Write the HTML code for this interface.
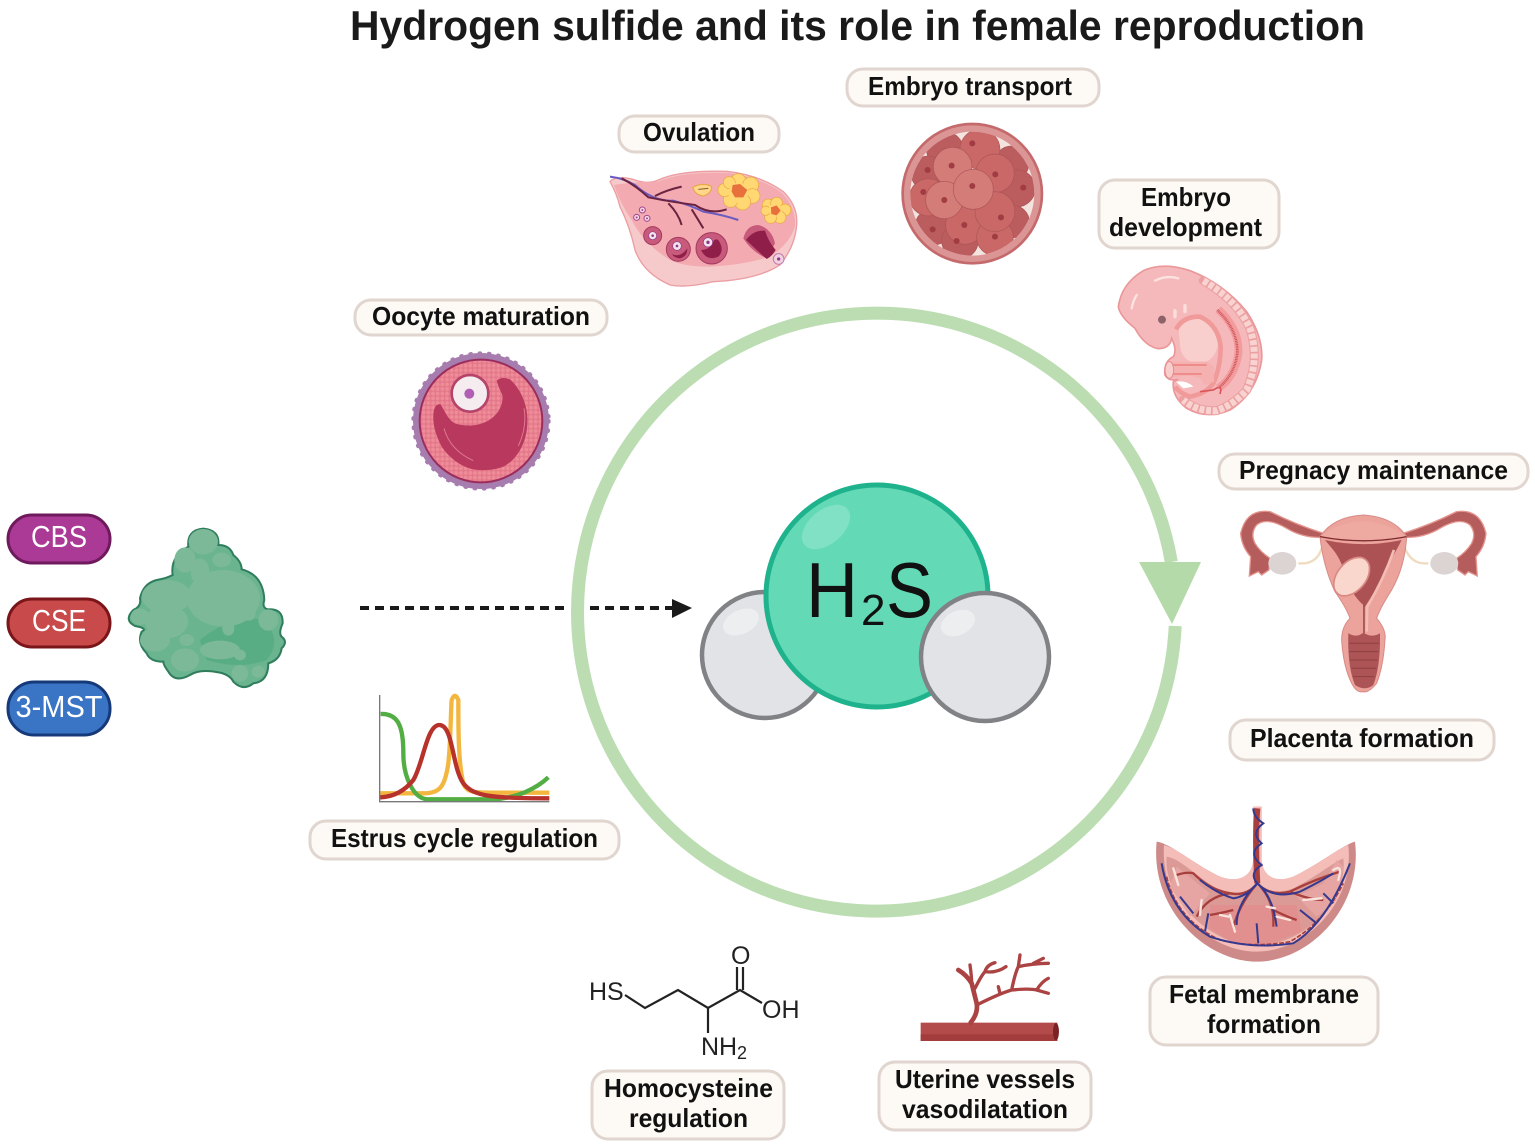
<!DOCTYPE html>
<html><head><meta charset="utf-8"><title>Hydrogen sulfide and its role in female reproduction</title>
<style>html,body{margin:0;padding:0;background:#fff}svg{display:block}
.l{font:bold 26px "Liberation Sans",sans-serif;fill:#111}
.p{font:31px "Liberation Sans",sans-serif;fill:#fff}
.b{fill:#fdf9f5;stroke:#e0d5cf;stroke-width:3}
.c{font:25px "Liberation Sans",sans-serif;fill:#222}
</style></head><body>
<svg xmlns="http://www.w3.org/2000/svg" width="1535" height="1147" viewBox="0 0 1535 1147">
<defs>
<pattern id="gran" width="14" height="14" patternUnits="userSpaceOnUse"><rect width="14" height="14" fill="#e4788a"/><circle cx="7" cy="7" r="5.5" fill="#ee8c98"/></pattern>
<clipPath id="mc"><circle cx="1117" cy="251" r="186"/></clipPath>
</defs>
<text x="350" y="40" font-family="Liberation Sans" font-weight="bold" font-size="42" fill="#1a1a1a" textLength="1015" lengthAdjust="spacingAndGlyphs">Hydrogen sulfide and its role in female reproduction</text>

<!-- ring -->
<path d="M1175.2,626 A299,299 0 1 1 1171.3,562" fill="none" stroke="#bbddb1" stroke-width="13"/>
<path d="M1139,562H1201L1172,624Z" fill="#b5daa9"/>

<!-- dashed arrow -->
<line x1="360" y1="608" x2="566" y2="608" stroke="#1a1a1a" stroke-width="4" stroke-dasharray="9 6"/>
<line x1="590" y1="608" x2="672" y2="608" stroke="#1a1a1a" stroke-width="4" stroke-dasharray="9 6"/>
<path d="M672,599L692,608L672,618Z" fill="#1a1a1a"/>

<!-- molecule -->
<circle cx="765" cy="655" r="63" fill="#e1e3e6" stroke="#808285" stroke-width="4.5"/>
<ellipse cx="741" cy="622" rx="19" ry="12" transform="rotate(-25 741 622)" fill="#eceef0"/>
<circle cx="877" cy="596" r="111" fill="#63dab5" stroke="#1fb38d" stroke-width="5"/>
<ellipse cx="826" cy="527" rx="28" ry="17" transform="rotate(-40 826 527)" fill="#80e1c4"/>
<circle cx="985" cy="657" r="64" fill="#e1e3e6" stroke="#808285" stroke-width="4.5"/>
<ellipse cx="958" cy="623" rx="18" ry="12" transform="rotate(-25 958 623)" fill="#eceef0"/>
<text x="806" y="617" font-family="Liberation Sans" font-size="78" fill="#111" textLength="52" lengthAdjust="spacingAndGlyphs">H</text>
<text x="861" y="625" font-family="Liberation Sans" font-size="44" fill="#111">2</text>
<text x="886" y="617" font-family="Liberation Sans" font-size="78" fill="#111" textLength="47" lengthAdjust="spacingAndGlyphs">S</text>

<!-- pills -->
<rect x="8" y="515" width="102" height="48" rx="24" fill="#ab3a96" stroke="#6e1a5d" stroke-width="3"/>
<text x="59" y="547" text-anchor="middle" class="p" textLength="56" lengthAdjust="spacingAndGlyphs">CBS</text>
<rect x="8" y="599" width="102" height="48" rx="24" fill="#c94a4a" stroke="#7a1519" stroke-width="3"/>
<text x="59" y="631" text-anchor="middle" class="p" textLength="54" lengthAdjust="spacingAndGlyphs">CSE</text>
<rect x="8" y="682" width="102" height="53" rx="26" fill="#3a74c4" stroke="#16397a" stroke-width="3"/>
<text x="59" y="717" text-anchor="middle" class="p" textLength="87" lengthAdjust="spacingAndGlyphs">3-MST</text>

<!-- protein -->
<g transform="translate(0,500) scale(.3333)">
<path d="M565,140 Q560,90 610,86 Q660,90 655,135 Q690,135 700,165 Q725,185 725,208 Q790,225 793,300 Q785,325 805,328 Q850,325 848,370 Q835,400 845,410 Q865,425 845,445 Q840,480 805,490 Q805,545 760,550 Q730,575 700,545 Q690,525 660,518 Q600,505 570,525 Q525,550 505,515 Q490,495 490,485 Q450,485 440,460 Q410,430 425,395 Q445,385 405,378 Q370,360 400,330 Q425,320 420,295 Q430,250 470,240 Q500,235 518,225 Q510,170 565,140Z" fill="#6ab48f" stroke="#2f7d5c" stroke-width="6"/>
<path d="M600,420 Q700,340 790,360 Q850,420 800,480 Q720,510 620,480Z" fill="#58ad85"/>
<g fill="#7cb998">
<ellipse cx="610" cy="125" rx="44" ry="38"/><ellipse cx="555" cy="180" rx="32" ry="38"/><ellipse cx="600" cy="215" rx="28" ry="40"/><ellipse cx="665" cy="180" rx="28" ry="22"/>
<ellipse cx="670" cy="295" rx="110" ry="85"/><ellipse cx="500" cy="290" rx="75" ry="50"/><ellipse cx="500" cy="365" rx="65" ry="50"/><ellipse cx="465" cy="420" rx="45" ry="35"/>
<ellipse cx="555" cy="480" rx="42" ry="35"/><ellipse cx="660" cy="450" rx="60" ry="28"/><ellipse cx="720" cy="520" rx="25" ry="25"/><ellipse cx="805" cy="360" rx="30" ry="32"/><ellipse cx="745" cy="342" rx="22" ry="20"/><ellipse cx="685" cy="385" rx="18" ry="22"/><ellipse cx="560" cy="420" rx="22" ry="18"/><ellipse cx="775" cy="515" rx="20" ry="18"/><ellipse cx="420" cy="350" rx="28" ry="25"/><ellipse cx="720" cy="465" rx="18" ry="16"/>
</g>
</g>

<!-- oocyte -->
<g transform="translate(370,340) scale(.3333)">
<circle cx="333" cy="243" r="198" fill="#a67dae" stroke="#a67dae" stroke-width="12"/>
<circle cx="333" cy="243" r="203" fill="none" stroke="#a67dae" stroke-width="12" stroke-dasharray="2 26" stroke-linecap="round"/>
<circle cx="333" cy="243" r="184" fill="url(#gran)" stroke="#9b2d5d" stroke-width="6"/>
<path d="M380,122 Q395,108 420,118 C455,150 475,200 472,250 C470,310 440,360 400,380 C370,392 340,392 310,388 C270,380 235,350 215,320 C200,290 188,260 190,225 Q192,190 212,193 C225,215 235,240 255,250 C290,262 335,258 365,235 C390,215 400,190 397,165 Q385,140 380,122Z" fill="#b8385e"/>
<path d="M222,265 Q240,330 310,362 M462,205 Q472,260 445,318" fill="none" stroke="#dd7a90" stroke-width="3"/>
<circle cx="300" cy="160" r="55" fill="#f4ecef" stroke="#b5436a" stroke-width="8"/>
<circle cx="298" cy="161" r="15" fill="#b05fb5"/>
</g>

<!-- ovary -->
<g transform="translate(600,110) scale(.3333)">
<path d="M30,215 Q45,195 100,208 Q140,225 175,210 Q240,180 380,184 Q480,195 550,245 Q595,290 590,345 Q585,410 540,465 Q470,510 340,515 Q260,535 210,525 Q130,490 105,420 Q90,350 60,290 Q50,250 30,215Z" fill="#f6c9ca" stroke="#eb9da2" stroke-width="4"/>
<path d="M42,225 Q100,215 175,215 Q240,185 380,188 Q480,200 548,250 Q590,295 585,350 Q570,400 510,440 Q430,465 330,470 Q250,470 210,450 Q130,400 95,330 Q60,280 42,225Z" fill="#f3aab1"/>
<g fill="#ffd773" stroke="#e8a63f" stroke-width="2">
<circle cx="415" cy="215" r="24"/><circle cx="452" cy="225" r="24"/><circle cx="458" cy="258" r="22"/><circle cx="428" cy="276" r="24"/><circle cx="392" cy="270" r="22"/><circle cx="374" cy="240" r="20"/><circle cx="388" cy="218" r="18"/><circle cx="415" cy="248" r="30" stroke="none"/>
<circle cx="505" cy="285" r="18"/><circle cx="530" cy="280" r="18"/><circle cx="555" cy="300" r="18"/><circle cx="540" cy="322" r="18"/><circle cx="512" cy="322" r="18"/><circle cx="497" cy="302" r="14"/><circle cx="526" cy="300" r="20" stroke="none"/>
</g>
<path d="M398,225 L420,222 L442,240 L430,262 L405,262 L395,245Z" fill="#e8703c"/>
<path d="M513,292 L530,286 L542,302 L530,316 L514,312Z" fill="#e8703c"/>
<path d="M278,232 Q310,215 335,230 Q335,250 310,258 Q285,255 278,232Z" fill="#ffd68a" stroke="#e8a63f" stroke-width="3"/>
<path d="M295,238 L325,235" stroke="#8a5a2f" stroke-width="3"/>
<path d="M30,200 Q70,205 105,225 Q160,275 220,272 Q270,285 310,305 Q370,315 415,330" fill="none" stroke="#6a5cc0" stroke-width="6"/>
<path d="M65,205 Q105,225 145,262 Q210,275 285,285 Q330,315 380,298 M165,258 Q200,240 245,230 M205,280 Q235,310 245,345 M275,298 Q295,330 310,355" fill="none" stroke="#6a2340" stroke-width="6"/>
<g fill="#f7d9e5" stroke="#a0478c" stroke-width="3"><circle cx="127" cy="300" r="9"/><circle cx="110" cy="322" r="9"/><circle cx="141" cy="325" r="9"/></g>
<g fill="#a0478c"><circle cx="127" cy="300" r="3"/><circle cx="110" cy="322" r="3"/><circle cx="141" cy="325" r="3"/></g>
<circle cx="158" cy="377" r="27" fill="#c85a7c" stroke="#a33a5f" stroke-width="3"/><circle cx="158" cy="377" r="12" fill="#f5e4ec" stroke="#8f3a8c" stroke-width="2"/><circle cx="158" cy="377" r="4" fill="#8f3a8c"/>
<circle cx="235" cy="418" r="36" fill="#c85a7c" stroke="#a33a5f" stroke-width="3"/><path d="M215,432 Q240,445 262,415 Q262,440 240,445 Q225,445 215,432Z" fill="#8f1f48"/><circle cx="231" cy="408" r="13" fill="#f5e4ec" stroke="#8f3a8c" stroke-width="2"/><circle cx="231" cy="408" r="4" fill="#8f3a8c"/>
<circle cx="335" cy="415" r="47" fill="#c85a7c" stroke="#a33a5f" stroke-width="3"/><path d="M303,420 Q330,420 340,395 Q345,385 355,390 Q375,420 355,440 Q320,455 303,420Z" fill="#8f1f48"/><circle cx="324" cy="397" r="14" fill="#f5e4ec" stroke="#8f3a8c" stroke-width="2"/><circle cx="324" cy="397" r="5" fill="#8f3a8c"/>
<path d="M430,385 Q440,345 475,345 Q515,355 525,400 L500,445 Q455,425 430,385Z" fill="#c85a7c"/>
<path d="M438,390 Q460,360 495,362 Q505,395 527,420 Q515,440 500,447 Q470,420 438,390Z" fill="#8f1f48"/>
<circle cx="536" cy="447" r="16" fill="#f3d2e0" stroke="#c07ab0" stroke-width="3"/><circle cx="536" cy="447" r="5" fill="#8f3a8c"/>
</g>

<!-- morula -->
<g transform="translate(600,110) scale(.3333)">
<circle cx="1117" cy="251" r="209" fill="#db9594" stroke="#c46a6c" stroke-width="8"/>
<circle cx="1117" cy="251" r="186" fill="#f3e4df"/>
<g clip-path="url(#mc)">
<g stroke="#ad5456" stroke-width="2">
<g fill="#bb5c5e"><circle cx="1035" cy="120" r="55"/><circle cx="1235" cy="160" r="52"/><circle cx="985" cy="190" r="52"/><circle cx="1250" cy="235" r="56"/><circle cx="1240" cy="335" r="48"/><circle cx="1000" cy="350" r="55"/><circle cx="1080" cy="392" r="55"/></g>
<g fill="#c96867"><circle cx="1140" cy="118" r="60"/><circle cx="985" cy="262" r="56"/><circle cx="1185" cy="190" r="58"/><circle cx="1095" cy="345" r="58"/><circle cx="1185" cy="382" r="55"/><circle cx="1185" cy="305" r="60"/></g>
<g fill="#d47c78"><circle cx="1058" cy="170" r="58"/><circle cx="1033" cy="270" r="56"/><circle cx="1120" cy="238" r="60"/></g>
</g>
</g>
<g fill="#a03c42"><circle cx="1117" cy="100" r="9"/><circle cx="1055" cy="167" r="9"/><circle cx="983" cy="180" r="9"/><circle cx="1186" cy="193" r="9"/><circle cx="1117" cy="228" r="9"/><circle cx="970" cy="246" r="9"/><circle cx="1033" cy="270" r="9"/><circle cx="1270" cy="233" r="9"/><circle cx="1203" cy="322" r="9"/><circle cx="1093" cy="345" r="9"/><circle cx="998" cy="358" r="9"/><circle cx="1185" cy="380" r="9"/><circle cx="1070" cy="393" r="9"/></g>
</g>

<!-- embryo -->
<g transform="translate(1090,250) scale(.3333)">
<path d="M85,170 Q95,100 160,62 Q220,35 300,62 Q400,100 470,185 Q520,260 515,330 Q500,430 420,480 Q350,510 290,475 Q245,440 250,395 L265,388 Q235,395 225,375 Q220,335 250,320 Q262,300 245,265 Q240,295 205,296 Q165,290 135,235 Q90,200 85,170Z" fill="#f6b9bb" stroke="#ea979a" stroke-width="5"/>
<path d="M340,92 Q440,150 480,235 Q510,330 470,420 Q430,465 380,482 Q320,485 280,450" fill="none" stroke="#ec9fa0" stroke-width="27" stroke-linecap="round"/>
<path d="M340,92 Q440,150 480,235 Q510,330 470,420 Q430,465 380,482 Q320,485 280,450" fill="none" stroke="#f9d3d1" stroke-width="21" stroke-dasharray="15 5"/>
<path d="M385,178 Q450,240 445,310 Q435,380 385,415" fill="none" stroke="#f39c9e" stroke-width="24"/>
<path d="M382,180 Q445,240 442,310 Q435,370 390,410" fill="none" stroke="#cf575c" stroke-width="8" stroke-dasharray="3 2"/>
<path d="M265,230 Q285,200 330,205 Q375,225 385,280 Q375,340 320,340 Q270,330 270,280Z" fill="#f9cfcd"/>
<path d="M258,238 Q280,198 330,200 Q385,225 392,290 Q392,350 370,400 Q350,430 300,440 Q270,430 255,410" fill="none" stroke="#f09a9a" stroke-width="14"/>
<path d="M230,335 Q290,335 350,335 L372,350 L372,395 Q340,410 340,400 Q330,365 235,385Z" fill="#f5b0b0"/>
<path d="M235,345 L350,345 M240,372 L335,372" stroke="#ee8c8c" stroke-width="6"/>
<ellipse cx="238" cy="360" rx="13" ry="25" fill="#f9cfcd" stroke="#e68c8c" stroke-width="3"/>
<path d="M258,395 Q290,390 310,410 L280,415Z" fill="#fff"/>
<path d="M330,425 L370,420 Q400,400 390,432" fill="none" stroke="#d9565c" stroke-width="5"/>
<circle cx="216" cy="209" r="12" fill="#8c6368"/>
<path d="M125,175 Q130,150 140,135 M195,92 Q230,75 265,85" stroke="#fce3e1" stroke-width="7" stroke-linecap="round" fill="none"/>
<path d="M255,200 L255,182 M285,185 L285,167" stroke="#fbdedc" stroke-width="10" stroke-linecap="round"/>
</g>

<!-- uterus -->
<g transform="translate(1090,250) scale(.3333)">
<path d="M625,940 Q680,945 695,895 M1015,940 Q965,945 945,895" fill="none" stroke="#efdcc0" stroke-width="7"/>
<g id="tubeL">
<path d="M700,850 Q620,825 540,785 Q470,775 452,850 Q455,890 482,920 L478,978 L505,965 L515,975 L537,960 L540,925 Q510,905 495,880 Q480,850 500,825 Q530,800 590,835 Q640,865 700,862Z" fill="#b55d5d" stroke="#e3958e" stroke-width="4"/>
<ellipse cx="577" cy="940" rx="42" ry="34" fill="#dcd3d3"/>
</g>
<g transform="translate(1640,0) scale(-1,1)">
<path d="M700,850 Q620,825 540,785 Q470,775 452,850 Q455,890 482,920 L478,978 L505,965 L515,975 L537,960 L540,925 Q510,905 495,880 Q480,850 500,825 Q530,800 590,835 Q640,865 700,862Z" fill="#b55d5d" stroke="#e3958e" stroke-width="4"/>
<ellipse cx="577" cy="940" rx="42" ry="34" fill="#dcd3d3"/>
</g>
<path d="M690,860 Q730,800 820,795 Q910,800 950,860 Q945,950 905,1020 Q870,1075 860,1105 Q890,1140 885,1170 Q880,1250 860,1300 Q835,1330 820,1325 Q800,1330 785,1300 Q760,1250 755,1170 Q755,1130 780,1105 Q770,1075 735,1025 Q700,950 690,860Z" fill="#eba39c" stroke="#d88b86" stroke-width="3"/>
<path d="M692,858 Q820,895 948,858 Q820,770 692,858Z" fill="#eea9a1"/>
<path d="M705,870 Q820,895 935,870 Q915,910 885,960 Q860,1020 825,1070 Q790,1040 775,1000 Q755,930 730,900Z" fill="#ad5254"/>
<path d="M690,860 Q820,885 950,860" fill="none" stroke="#7d2a2e" stroke-width="4"/>
<path d="M912,900 Q880,990 832,1070 L830,1145" fill="none" stroke="#f3bcb5" stroke-width="8"/>
<path d="M822,1065 L822,1150" stroke="#8c3a3c" stroke-width="4"/>
<ellipse cx="785" cy="980" rx="43" ry="66" transform="rotate(40 785 980)" fill="#fad7cd" stroke="#d98a85" stroke-width="5"/>
<path d="M775,1150 Q800,1165 820,1148 Q845,1165 870,1150 Q872,1250 850,1305 Q825,1325 795,1305 Q772,1250 775,1150Z" fill="#ad5556"/>
<path d="M778,1180 H868 M778,1205 H866 M780,1230 H862 M785,1255 H858 M790,1280 H852" stroke="#8f3f42" stroke-width="3"/>
</g>

<!-- graph -->
<g transform="translate(360,680) scale(.3333)" fill="none">
<path d="M60,340 H190 C240,340 255,320 265,250 C272,190 272,100 275,60 Q285,35 295,60 C295,150 295,250 310,310 C320,340 350,338 400,338 H568" stroke="#f3b73f" stroke-width="13"/>
<path d="M62,102 C120,100 130,150 130,220 C130,290 160,358 205,358 L400,358 C470,355 530,325 565,292" stroke="#52ad43" stroke-width="13"/>
<path d="M60,352 Q120,350 160,300 C190,250 200,135 238,135 C280,135 275,260 310,310 C340,350 400,355 568,355" stroke="#b8322c" stroke-width="13"/>
<path d="M59,45 V365 H568" stroke="#77787b" stroke-width="4"/>
</g>

<!-- placenta -->
<g transform="translate(900,800) scale(.3333)">
<path d="M770,125 C750,330 920,485 1070,485 C1230,485 1390,320 1365,125 C1330,135 1260,190 1190,225 C1140,250 1090,240 1085,180 L1085,20 L1060,20 L1060,180 C1055,240 1000,250 950,225 C880,190 810,130 770,125Z" fill="#cd8a88"/>
<path d="M792,135 C780,320 930,455 1070,455 C1215,455 1365,310 1345,135 C1300,155 1260,190 1190,225 C1140,250 1090,240 1085,180 L1085,20 L1060,20 L1060,180 C1055,240 1000,250 950,225 C880,190 840,150 792,135Z" fill="#f4bdb8"/>
<path d="M800,170 C790,290 920,430 1070,440 C1220,430 1345,300 1330,175 C1295,190 1250,230 1180,265 C1130,285 1080,270 1070,255 C1050,280 1000,285 950,265 C890,230 840,175 800,170Z" fill="#dc9a97"/>
<path d="M930,315 L1190,315 L1205,395 L1100,435 L1000,430 L930,385Z" fill="#e2908f"/>
<path d="M1190,290 L1270,250 L1310,180 L1330,200 L1310,300 L1250,350Z" fill="#e6a5a2"/>
<path d="M830,200 L930,280 L870,350 L810,260Z" fill="#e6a5a2"/>
<g fill="none" stroke="#a83f3c" stroke-width="7">
<path d="M1072,25 Q1065,110 1072,250" stroke-width="18"/>
<path d="M1072,250 Q1040,290 990,280 Q930,270 880,220 Q860,215 830,225 M1072,250 Q1110,290 1170,275 Q1240,240 1320,215 M1072,250 Q1020,310 1000,380 M1072,250 Q1125,300 1120,380 M990,280 Q920,290 890,350 M1170,275 Q1230,300 1270,300 M1000,330 Q960,340 930,345 M1120,330 Q1160,350 1190,360" />
<path d="M800,230 Q830,360 960,420 Q1060,445 1170,425 Q1270,370 1330,250" stroke-width="5" stroke-dasharray="14 5"/>
</g>
<g fill="none" stroke="#34398f" stroke-width="6">
<path d="M1060,25 Q1060,50 1090,70 Q1050,100 1085,130 Q1040,160 1085,195 Q1045,220 1072,250"/>
<path d="M1072,250 Q1040,290 1000,295 Q950,280 900,240 M1072,250 Q1010,310 1010,375 M1072,250 Q1120,290 1130,380 M1072,250 Q1120,300 1200,275 Q1270,240 1300,220 M785,190 Q810,340 930,410 Q1050,450 1180,430 Q1280,370 1350,190 M1070,370 L1075,430 M925,340 L915,395 M1200,330 L1250,370 M840,290 L880,340 M1270,280 L1300,310"/>
</g>
<g fill="none" stroke="#f8e3dd" stroke-width="7" stroke-linecap="round"><path d="M905,300 L900,345 M990,345 L1005,395 M1130,350 L1170,360 M1210,300 L1265,295 M820,205 L835,255 M1300,210 Q1330,190 1315,240 M960,345 L985,350 M1100,320 L1125,325"/></g>
</g>

<!-- vessel -->
<g transform="translate(900,800) scale(.3333)">
<rect x="62" y="668" width="410" height="55" fill="#b44b4b"/>
<rect x="62" y="703" width="410" height="20" fill="#a33c3c"/>
<ellipse cx="468" cy="695" rx="9" ry="26" fill="#7a2226"/>
<g fill="none" stroke="#ab4343" stroke-linecap="round" stroke-linejoin="round">
<path d="M212,668 Q235,640 230,610 Q225,590 215,550 Q200,525 175,510" stroke-width="14"/>
<path d="M230,615 Q300,580 335,570 Q345,520 355,500 L360,465 M355,500 Q400,490 445,490 M400,490 L430,475 M335,570 Q390,565 410,570 Q425,545 445,535 M410,570 L445,580 M300,580 L295,560 M215,550 Q215,530 210,495 M225,565 Q245,525 255,515 Q290,520 318,500 M255,515 Q260,495 285,488" stroke-width="10"/>
</g>
</g>

<!-- homocysteine -->
<g fill="none" stroke="#222" stroke-width="2.2">
<path d="M625,995L645,1008L678,990L708,1008L740,990L762,1003M708,1008V1033M737,990V967M743,990V967"/>
</g>
<text x="589" y="1000" class="c">HS</text>
<text x="731" y="964" class="c">O</text>
<text x="762" y="1018" class="c">OH</text>
<text x="701" y="1055" class="c">NH</text>
<text x="737" y="1059" font-family="Liberation Sans" font-size="18" fill="#222">2</text>

<!-- labels -->
<rect class="b" x="847" y="69" width="252" height="37" rx="16"/><text class="l" x="868" y="95" textLength="204" lengthAdjust="spacingAndGlyphs">Embryo transport</text>
<rect class="b" x="619" y="116" width="160" height="36" rx="16"/><text class="l" x="643" y="141" textLength="112" lengthAdjust="spacingAndGlyphs">Ovulation</text>
<rect class="b" x="1099" y="180" width="180" height="68" rx="16"/><text class="l" x="1141" y="206" textLength="90" lengthAdjust="spacingAndGlyphs">Embryo</text><text class="l" x="1109" y="236" textLength="153" lengthAdjust="spacingAndGlyphs">development</text>
<rect class="b" x="355" y="300" width="252" height="35" rx="16"/><text class="l" x="372" y="325" textLength="218" lengthAdjust="spacingAndGlyphs">Oocyte maturation</text>
<rect class="b" x="1219" y="454" width="309" height="35" rx="16"/><text class="l" x="1239" y="479" textLength="269" lengthAdjust="spacingAndGlyphs">Pregnacy maintenance</text>
<rect class="b" x="1230" y="720" width="264" height="40" rx="16"/><text class="l" x="1250" y="747" textLength="224" lengthAdjust="spacingAndGlyphs">Placenta formation</text>
<rect class="b" x="310" y="821" width="309" height="38" rx="16"/><text class="l" x="331" y="847" textLength="267" lengthAdjust="spacingAndGlyphs">Estrus cycle regulation</text>
<rect class="b" x="1150" y="977" width="228" height="68" rx="16"/><text class="l" x="1169" y="1003" textLength="190" lengthAdjust="spacingAndGlyphs">Fetal membrane</text><text class="l" x="1207" y="1033" textLength="114" lengthAdjust="spacingAndGlyphs">formation</text>
<rect class="b" x="879" y="1062" width="212" height="68" rx="16"/><text class="l" x="895" y="1088" textLength="180" lengthAdjust="spacingAndGlyphs">Uterine vessels</text><text class="l" x="902" y="1118" textLength="166" lengthAdjust="spacingAndGlyphs">vasodilatation</text>
<rect class="b" x="592" y="1071" width="192" height="68" rx="16"/><text class="l" x="604" y="1097" textLength="169" lengthAdjust="spacingAndGlyphs">Homocysteine</text><text class="l" x="629" y="1127" textLength="119" lengthAdjust="spacingAndGlyphs">regulation</text>
</svg>
</body></html>
